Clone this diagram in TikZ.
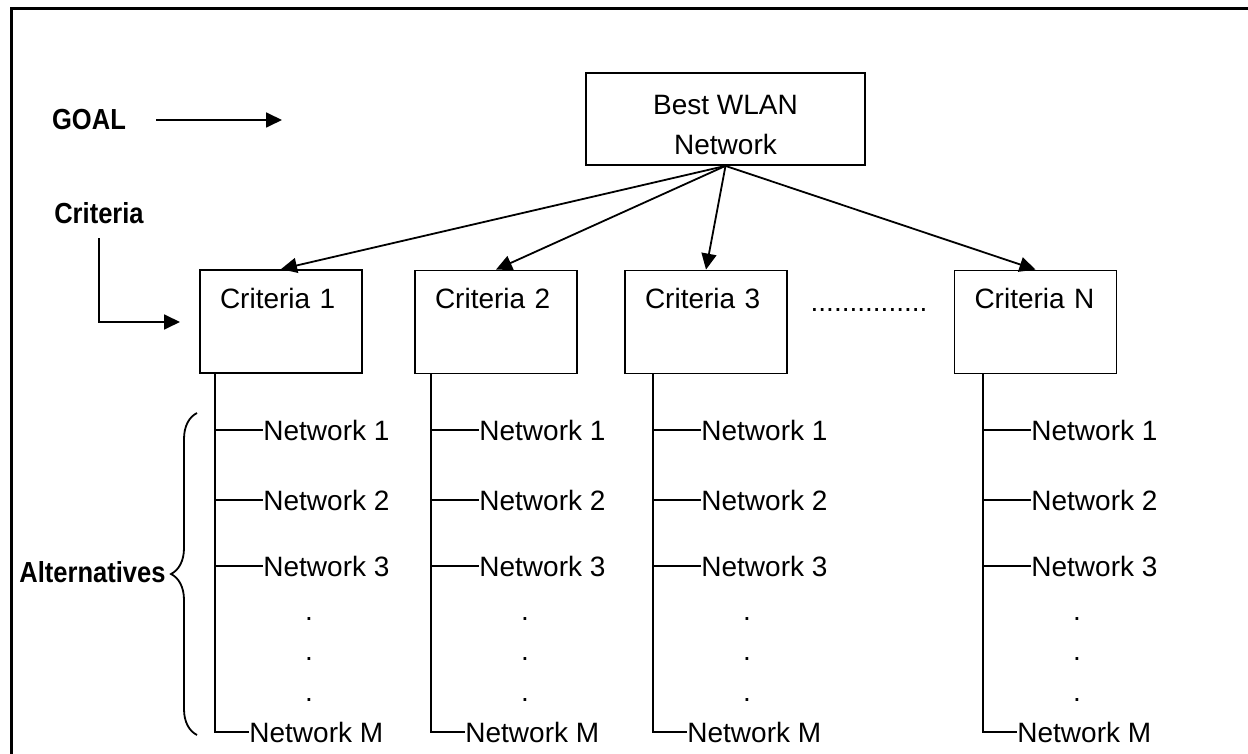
\documentclass[tikz,border=0pt]{standalone}
\usepackage{fontspec}
\setmainfont{Liberation Sans}
\newfontfamily\lbf{Liberation Sans}[FakeStretch=0.88]
\usetikzlibrary{arrows.meta,decorations.pathreplacing}
\tikzset{box/.style={draw,line width=.9pt,align=center,font=\fontsize{14}{20}\selectfont,minimum width=139.5pt,minimum height=46pt,inner sep=0pt},
 cr/.style={draw,line width=.9pt,align=left,font=\fontsize{14}{17}\selectfont,text width=61pt,inner xsep=10pt,inner ysep=9pt,text height=10pt,text depth=23.5pt},
 nt/.style={anchor=west,inner sep=0pt,font=\fontsize{14}{17}\selectfont},
 dt/.style={anchor=base,inner sep=0pt,font=\fontsize{14}{17}\selectfont},
 lb/.style={inner sep=0pt,font=\lbf\bfseries\fontsize{14.5}{17}\selectfont},
 ar/.style={line width=.9pt,-{Triangle[length=8pt,width=7.5pt]}},
 ln/.style={line width=.9pt}}

\begin{document}
\begin{tikzpicture}[x=.5pt,y=-.5pt]
\useasboundingbox (0,0) rectangle (1248,754);
\draw[line width=1.5pt] (11.5,754) |- (1248,8.5);
\node[lb](goal) at (89,120){GOAL};\coordinate (gend) at (282,120);
\node[lb](crit) at (99,213){Criteria};\coordinate (cend) at (180,322);
\node[lb](alt) at (92.5,572){Alternatives};
\node[box](best) at (725.5,119){\rule{0pt}{16pt}Best WLAN\\Network};
\node[cr](c1) at (281,321.5){Criteria 1};\node[cr](c2) at (496,322){Criteria 2};
\node[cr](c3) at (706,322){Criteria 3};\node[cr](cn) at (1035.5,322){Criteria N};
\node[dt](more) at (869,312){...............};
\draw[ar,shorten <=15pt](goal)--(gend);\draw[ar,shorten <=7pt](crit.south)|-(cend);
\foreach \c in {c1,c2,c3,cn}\draw[ar](best.south)--(\c.north);
\coordinate (bt) at (197,413);\coordinate (bb) at (197,735);
\draw[ln,decorate,decoration={brace,amplitude=13pt}](bb)--(bt);
\foreach \c/\x in {c1/215,c2/431,c3/653,cn/983}{
 \coordinate (\c-s) at (\c.south -| \x,0);
 \foreach \i/\y in {1/430,2/500,3/566}{\node[nt](\c-n\i) at (\x+48,\y){Network \i};}
 \node[nt](\c-nm) at (\x+34,732){Network M};
 \foreach \j/\y in {1/620,2/660,3/701}{\node[dt](\c-d\j) at (\x+94,\y){.};}
 \draw[ln](\c-s)|-(\c-nm);
 \foreach \i in {1,2,3}{\draw[ln](\c-s |- \c-n\i)--(\c-n\i);}
}
\end{tikzpicture}
\end{document}
